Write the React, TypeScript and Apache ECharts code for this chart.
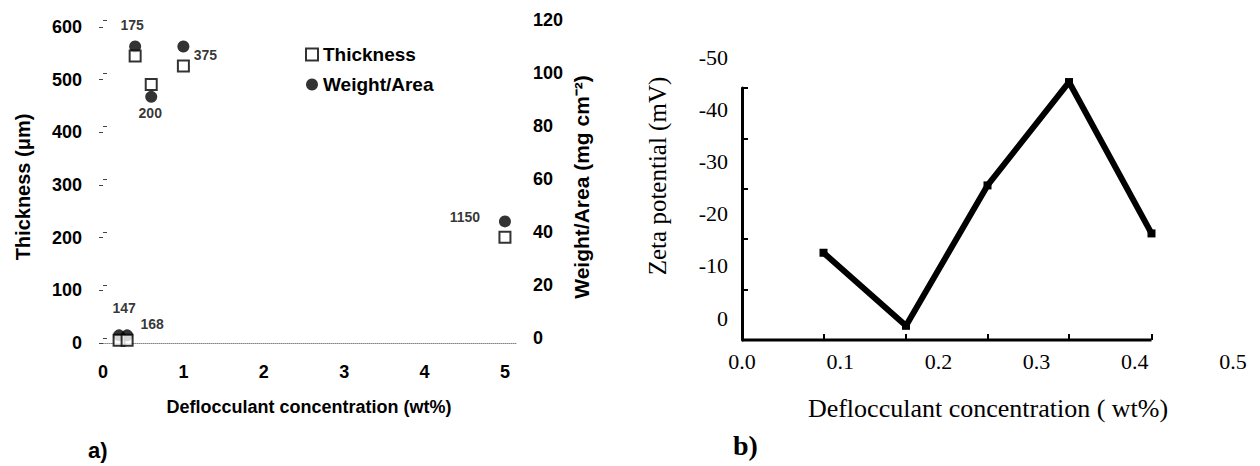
import React, { useEffect, useRef } from 'react';
import * as echarts from 'echarts';

// ---- Panel a) data ----
const concA = [0.2, 0.3, 0.4, 0.6, 1.0, 5.0];
const thickness = [5, 5, 545, 491, 526, 201];
const weightArea = [1, 1, 110, 91, 110, 44];
const pointTags = ['147', '168', '175', '200', '375', '1150'];

// ---- Panel b) data ----
const concB = [0.083, 0.167, 0.25, 0.333, 0.417];
const zeta = [-12.5, 1.5, -25.4, -45.2, -16.2];

// label offsets (style only)
const tagOffsets: [number, number][] = [
  [5, -32],
  [25, -16],
  [-3, -31],
  [-1, 29],
  [22, -11],
  [-40, -20],
];

const SANS = "'Liberation Sans', Arial, sans-serif";
const SERIF = "'Liberation Serif', 'Times New Roman', serif";

export default function App() {
  const ref = useRef<HTMLDivElement>(null);
  useEffect(() => {
    if (!ref.current) return;
    const chart = echarts.init(ref.current, undefined, { renderer: 'svg' });
    const lastX = Math.max(...concB);
    const option: any = {
      animation: false,
      backgroundColor: '#fff',
      legend: {
        orient: 'vertical',
        left: 305,
        top: 45,
        padding: 0,
        itemGap: 11,
        itemWidth: 12,
        itemHeight: 12,
        data: ['Thickness', 'Weight/Area'],
        textStyle: { fontFamily: SANS, fontWeight: 'bold', fontSize: 19, color: '#000' },
      },
      grid: [
        { left: 103, right: 743, top: 27, bottom: 123 },
        { left: 103, right: 743, top: 20, bottom: 128 },
        { left: 742, right: 27, top: 88, bottom: 126 },
        { left: 742, right: 27, top: 57, bottom: 148 },
      ],
      xAxis: [
        {
          type: 'value', gridIndex: 0, min: 0, max: 5.15, interval: 1,
          axisLine: { show: true, lineStyle: { color: '#888', type: 'dotted', width: 1 } },
          axisTick: { show: false },
          splitLine: { show: false },
          axisLabel: {
            formatter: (v: number) => (Number.isInteger(v) ? String(v) : ''),
            fontFamily: SANS, fontWeight: 'bold', fontSize: 18, color: '#000', margin: 20,
          },
        },
        { type: 'value', gridIndex: 1, min: 0, max: 5.15, show: false },
        {
          type: 'value', gridIndex: 2, min: 0, max: 0.5, interval: 0.1,
          axisLine: { show: false },
          axisTick: { show: true, inside: true, length: 6, customValues: concB, lineStyle: { color: '#000', width: 2 } },
          splitLine: { show: false },
          axisLabel: {
            formatter: (v: number) => v.toFixed(1),
            fontFamily: SERIF, fontSize: 22, color: '#000', margin: 10,
          },
        },
        { type: 'value', gridIndex: 3, min: 0, max: 0.5, show: false },
      ],
      yAxis: [
        {
          type: 'value', gridIndex: 0, min: 0, max: 600, interval: 100,
          axisLine: { show: false },
          axisTick: { show: true, length: 4, lineStyle: { color: '#444' } },
          splitLine: { show: false },
          axisLabel: { fontFamily: SANS, fontWeight: 'bold', fontSize: 18, color: '#000', margin: 21 },
        },
        {
          type: 'value', gridIndex: 1, position: 'right', min: 0, max: 120, interval: 20,
          axisLine: { show: false },
          axisTick: { show: true, length: 4, lineStyle: { color: '#444' } },
          splitLine: { show: false },
          axisLabel: { fontFamily: SANS, fontWeight: 'bold', fontSize: 18, color: '#000', margin: 16 },
        },
        {
          type: 'value', gridIndex: 2, min: 0, max: 5, interval: 1,
          axisLine: { show: true, lineStyle: { color: '#000', width: 3 } },
          axisTick: { show: true, inside: true, length: 6, lineStyle: { color: '#000', width: 2 } },
          axisLabel: { show: false },
          splitLine: { show: false },
        },
        {
          type: 'value', gridIndex: 3, min: -50, max: 0, interval: 10, inverse: true,
          axisLine: { show: false },
          axisTick: { show: false },
          splitLine: { show: false },
          axisLabel: { fontFamily: SERIF, fontSize: 22, color: '#000', margin: 14 },
        },
      ],
      series: [
        {
          name: 'Weight/Area', type: 'scatter', xAxisIndex: 1, yAxisIndex: 1,
          symbol: 'circle', symbolSize: 12,
          itemStyle: { color: '#000' },
          data: concA.map((x, i) => [x, weightArea[i]]),
        },
        {
          name: 'Thickness', type: 'scatter', xAxisIndex: 0, yAxisIndex: 0,
          symbol: 'rect', symbolSize: 11,
          itemStyle: { color: '#fff', borderColor: '#000', borderWidth: 2 },
          data: concA.map((x, i) => ({
            value: [x, thickness[i]],
            label: {
              show: true,
              formatter: pointTags[i],
              position: 'inside',
              offset: tagOffsets[i],
              fontFamily: SANS, fontWeight: 'bold', fontSize: 14, color: '#000',
            },
          })),
        },
        {
          name: 'baseline', type: 'line', xAxisIndex: 2, yAxisIndex: 2,
          symbol: 'none', silent: true, clip: false,
          lineStyle: { color: '#000', width: 3 },
          data: [[0, 0], [lastX, 0]],
        },
        {
          name: 'Zeta', type: 'line', xAxisIndex: 3, yAxisIndex: 3,
          symbol: 'rect', symbolSize: 8, clip: false,
          lineStyle: { color: '#000', width: 6 },
          itemStyle: { color: '#000' },
          data: concB.map((x, i) => [x, zeta[i]]),
        },
      ],
      graphic: [
        {
          type: 'text', x: 23, y: 187, rotation: Math.PI / 2,
          style: { text: 'Thickness (μm)', fontFamily: SANS, fontWeight: 'bold', fontSize: 20, fill: '#000', align: 'center', verticalAlign: 'middle' },
        },
        {
          type: 'text', x: 581, y: 187, rotation: Math.PI / 2,
          style: { text: 'Weight/Area (mg cm⁻²)', fontFamily: SANS, fontWeight: 'bold', fontSize: 21, fill: '#000', align: 'center', verticalAlign: 'middle' },
        },
        {
          type: 'text', x: 309, y: 407,
          style: { text: 'Deflocculant concentration (wt%)', fontFamily: SANS, fontWeight: 'bold', fontSize: 18, fill: '#000', align: 'center', verticalAlign: 'middle' },
        },
        {
          type: 'text', x: 88, y: 450,
          style: { text: 'a)', fontFamily: SANS, fontWeight: 'bold', fontSize: 22, fill: '#000', align: 'left', verticalAlign: 'middle' },
        },
        {
          type: 'text', x: 657, y: 176, rotation: Math.PI / 2,
          style: { text: 'Zeta potential (mV)', fontFamily: SERIF, fontSize: 25, fill: '#000', align: 'center', verticalAlign: 'middle' },
        },
        {
          type: 'text', x: 988, y: 408,
          style: { text: 'Deflocculant concentration ( wt%)', fontFamily: SERIF, fontSize: 26, fill: '#000', align: 'center', verticalAlign: 'middle' },
        },
        {
          type: 'text', x: 733, y: 445,
          style: { text: 'b)', fontFamily: SERIF, fontWeight: 'bold', fontSize: 28, fill: '#000', align: 'left', verticalAlign: 'middle' },
        },
      ],
    };
    chart.setOption(option);
    return () => chart.dispose();
  }, []);
  return (
    <div
      ref={ref}
      style={{ position: 'fixed', left: 0, top: 0, width: 1260, height: 466, background: '#fff' }}
    />
  );
}
